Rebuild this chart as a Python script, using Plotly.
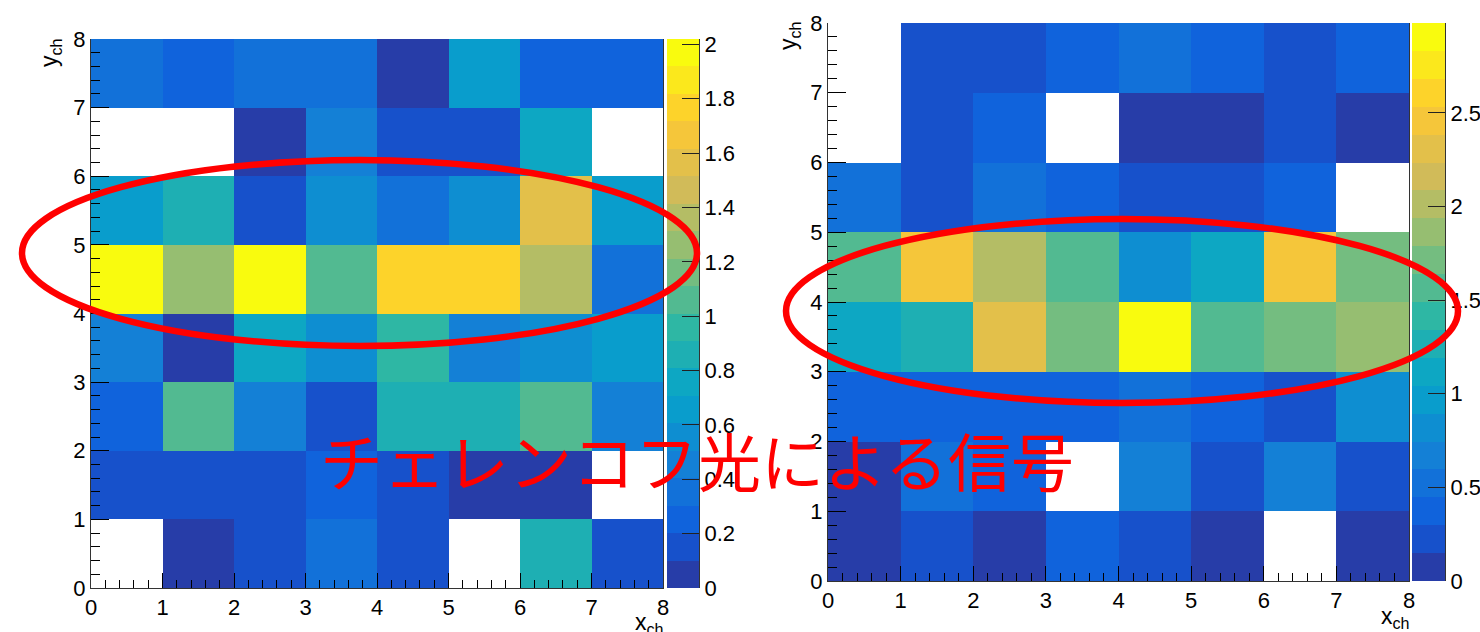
import plotly.graph_objects as go

# ---------------------------------------------------------------- data
x_channels = [0.5, 1.5, 2.5, 3.5, 4.5, 5.5, 6.5, 7.5]
y_channels = [0.5, 1.5, 2.5, 3.5, 4.5, 5.5, 6.5, 7.5]
axis_tick_values = [0, 1, 2, 3, 4, 5, 6, 7, 8]

# left map, one row per y channel (y = 0 ... 7); 0 = no hit
left_counts = [
    [0.00, 0.04, 0.17, 0.36, 0.14, 0.00, 0.85, 0.16],
    [0.16, 0.13, 0.15, 0.24, 0.18, 0.06, 0.05, 0.00],
    [0.27, 1.06, 0.44, 0.17, 0.84, 0.87, 1.05, 0.46],
    [0.45, 0.04, 0.76, 0.55, 0.95, 0.43, 0.57, 0.65],
    [2.02, 1.27, 1.98, 1.04, 1.77, 1.75, 1.36, 0.34],
    [0.66, 0.86, 0.16, 0.54, 0.35, 0.57, 1.57, 0.64],
    [0.00, 0.00, 0.05, 0.45, 0.16, 0.14, 0.74, 0.00],
    [0.37, 0.26, 0.34, 0.36, 0.06, 0.67, 0.24, 0.27],
]

# right map, one row per y channel (y = 0 ... 7); 0 = no hit
right_counts = [
    [0.08, 0.22, 0.10, 0.37, 0.20, 0.07, 0.00, 0.11],
    [0.09, 0.52, 0.35, 0.00, 0.67, 0.24, 0.69, 0.21],
    [0.38, 0.34, 0.40, 0.36, 0.51, 0.39, 0.23, 0.82],
    [1.12, 1.27, 2.31, 1.72, 2.98, 1.56, 1.70, 1.86],
    [1.55, 2.45, 2.01, 1.58, 0.81, 1.11, 2.47, 1.73],
    [0.50, 0.25, 0.53, 0.37, 0.21, 0.19, 0.41, 0.00],
    [0.00, 0.23, 0.36, 0.00, 0.09, 0.06, 0.26, 0.10],
    [0.00, 0.20, 0.24, 0.39, 0.54, 0.33, 0.22, 0.40],
]

left_scale_ticks = [0, 0.2, 0.4, 0.6, 0.8, 1.0, 1.2, 1.4, 1.6, 1.8, 2.0]
right_scale_ticks = [0, 0.5, 1.0, 1.5, 2.0, 2.5]

annotation_text = "チェレンコフ光による信号"

# ---------------------------------------------------------------- palette
# "bird" gradient, 255 colours, sampled into 20 contour levels
BIRD_STOPS = [0.0000, 0.1250, 0.2500, 0.3750, 0.5000, 0.6250, 0.7500, 0.8750, 1.0000]
BIRD_R = [0.2082, 0.0592, 0.0780, 0.0232, 0.1802, 0.5301, 0.8186, 0.9956, 0.9764]
BIRD_G = [0.1664, 0.3599, 0.5041, 0.6419, 0.7178, 0.7492, 0.7328, 0.7862, 0.9832]
BIRD_B = [0.5293, 0.8684, 0.8385, 0.7914, 0.6425, 0.4662, 0.3499, 0.1968, 0.0539]
N_COLORS = 255
N_LEVELS = 20


def bird(t):
    t = min(max(t, 0.0), 1.0)
    for i in range(1, len(BIRD_STOPS)):
        if t <= BIRD_STOPS[i]:
            f = (t - BIRD_STOPS[i - 1]) / (BIRD_STOPS[i] - BIRD_STOPS[i - 1])
            ch = [c[i - 1] + f * (c[i] - c[i - 1]) for c in (BIRD_R, BIRD_G, BIRD_B)]
            return "rgb(%d,%d,%d)" % tuple(round(255 * v) for v in ch)
    return "rgb(249,251,14)"


band_colors = []
for k in range(N_LEVELS):
    idx = int((k + 0.99) * N_COLORS / N_LEVELS)
    band_colors.append(bird(idx / (N_COLORS - 1)))

colorscale = []
for k, c in enumerate(band_colors):
    colorscale.append([k / N_LEVELS, c])
    colorscale.append([(k + 1) / N_LEVELS, c])

# ---------------------------------------------------------------- layout helpers
W, H = 1480, 632


def fx(p):
    return p / W


def fy(p):
    return 1 - p / H


FONT = "Liberation Sans, Arial, Helvetica, sans-serif"
TICK_FONT = dict(family=FONT, size=22, color="black")
AXIS_LINE = "#333333"

fig = go.Figure()


def masked(rows):
    # empty channels are left undrawn
    return [[None if v == 0 else v for v in row] for row in rows]


def add_panel(n, counts, x_px, y_px, cb_px, scale_ticks):
    zmax = max(max(r) for r in counts)
    xa, ya = "x%d" % n, "y%d" % n
    xb, yb = "x%d" % (n + 1), "y%d" % (n + 1)

    fig.add_trace(go.Heatmap(
        x=x_channels, y=y_channels, z=masked(counts),
        zmin=0, zmax=zmax, colorscale=colorscale, showscale=False,
        xaxis=xa, yaxis=ya, hoverinfo="skip"))

    # palette strip drawn as a one-column heatmap of the contour levels
    lev_mid = [(k + 0.5) * zmax / N_LEVELS for k in range(N_LEVELS)]
    fig.add_trace(go.Heatmap(
        x=[0], y=lev_mid, z=[[v] for v in lev_mid],
        zmin=0, zmax=zmax, colorscale=colorscale, showscale=False,
        xaxis=xb, yaxis=yb, hoverinfo="skip"))

    main_dom_y = [fy(y_px[1]), fy(y_px[0])]
    lay = {}
    lay["xaxis%d" % n] = dict(
        domain=[fx(x_px[0]), fx(x_px[1])], anchor=ya, range=[0, 8],
        automargin=False,
        tickvals=axis_tick_values, ticks="inside", ticklen=15, tickwidth=1,
        tickcolor="black", tickfont=TICK_FONT, showgrid=False, zeroline=False,
        showline=True, linecolor=AXIS_LINE, linewidth=1,
        minor=dict(dtick=0.2, ticks="inside", ticklen=8, tickcolor="black",
                   showgrid=False))
    lay["yaxis%d" % n] = dict(
        domain=main_dom_y, anchor=xa, range=[0, 8],
        automargin=False,
        tickvals=axis_tick_values, ticks="inside", ticklen=18, tickwidth=1,
        tickcolor="black", tickfont=TICK_FONT, showgrid=False, zeroline=False,
        showline=True, linecolor=AXIS_LINE, linewidth=1, mirror=True,
        minor=dict(dtick=0.2, ticks="inside", ticklen=9, tickcolor="black",
                   showgrid=False))
    lay["xaxis%d" % (n + 1)] = dict(
        domain=[fx(cb_px[0]), fx(cb_px[1])], anchor=yb, range=[-0.5, 0.5],
        automargin=False, visible=False)
    lay["yaxis%d" % (n + 1)] = dict(
        domain=main_dom_y, anchor=xb, side="right", range=[0, zmax],
        automargin=False,
        tickvals=scale_ticks, ticktext=["%g" % v for v in scale_ticks],
        ticks="inside", ticklen=17, tickwidth=1, tickcolor="#222222",
        tickfont=TICK_FONT, showgrid=False, zeroline=False,
        showline=True, linecolor=AXIS_LINE, linewidth=1)
    fig.update_layout(**lay)


add_panel(1, left_counts, (91, 663), (39, 588), (667, 699), left_scale_ticks)
add_panel(3, right_counts, (828, 1409), (23, 581), (1412, 1445), right_scale_ticks)

# axis titles
title_font = dict(family=FONT, size=23, color="black")
titles = [
    (50, 53, "y<sub>ch</sub>", -90),
    (790, 36, "y<sub>ch</sub>", -90),
    (649, 623, "x<sub>ch</sub>", 0),
    (1395, 617, "x<sub>ch</sub>", 0),
]
for px_, py_, txt, ang in titles:
    fig.add_annotation(x=fx(px_), y=fy(py_), xref="paper", yref="paper",
                       text=txt, textangle=ang, showarrow=False,
                       xanchor="center", yanchor="middle", font=title_font)

# highlighted signal rows
for x0, x1, y0, y1 in [(22, 697, 160, 346), (786, 1458, 219, 403)]:
    fig.add_shape(type="circle", xref="paper", yref="paper",
                  x0=fx(x0), x1=fx(x1), y0=fy(y1), y1=fy(y0),
                  line=dict(color="#ff0000", width=6.5), layer="above")

fig.add_annotation(x=fx(697), y=fy(458), xref="paper", yref="paper",
                   text=annotation_text, showarrow=False,
                   xanchor="center", yanchor="middle",
                   font=dict(family="Noto Sans CJK JP", size=63, color="#ff0000"))

fig.update_layout(
    width=W, height=H, autosize=False,
    margin=dict(l=0, r=0, t=0, b=0, autoexpand=False),
    paper_bgcolor="white", plot_bgcolor="white",
    showlegend=False,
)

fig.write_html("out.html", config={"displayModeBar": False})
